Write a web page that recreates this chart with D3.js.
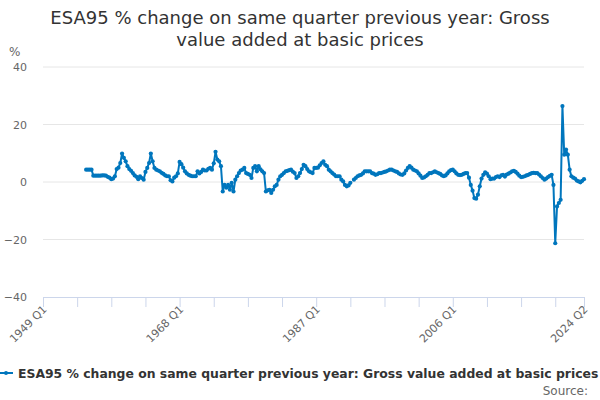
<!DOCTYPE html>
<html>
<head>
<meta charset="utf-8">
<script src="https://d3js.org/d3.v7.min.js"></script>
<style>
  body { margin: 0; background: #fff; }
  svg { font-family: "DejaVu Sans", sans-serif; display: block; }
</style>
</head>
<body>
<svg width="600" height="400"></svg>
<script>
// chart text
var titleLines = ["ESA95 % change on same quarter previous year: Gross", "value added at basic prices"];
var seriesName = "ESA95 % change on same quarter previous year: Gross value added at basic prices";
var unitLabel = "%";
var sourceLabel = "Source:";

// axes
var yTicks = [-40, -20, 0, 20, 40];
var xTickLabels = ["1949 Q1", "1968 Q1", "1987 Q1", "2006 Q1", "2024 Q2"];

// quarterly values, one row per year, starting 1955 Q1 (null = no value)
var firstYear = 1955;
var growth = [
  4.3, 4.3, 4.3, 4.3,      // 1955
  2.2, 2.2, 2.2, 2.2,      // 1956
  2.2, 2.3, 2.3, 2.2,      // 1957
  1.8, 1.5, 1.0, 1.2,      // 1958
  2.0, 4.5, 5.0, 6.6,      // 1959
  9.9, 8.4, 7.2, 5.5,      // 1960
  4.5, 3.9, 3.1, 2.3,      // 1961
  1.8, 1.0, 2.0, 1.4,      // 1962
  0.8, 3.5, 4.9, 6.6,      // 1963
  9.9, 7.2, 4.9, 4.3,      // 1964
  4.0, 3.7, 3.2, 2.8,      // 1965
  2.3, 2.0, 2.0, 0.6,      // 1966
  0.2, 1.5, 2.0, 3.0,      // 1967
  7.0, 6.2, 5.0, 3.7,      // 1968
  3.0, 2.5, 2.2, 2.0,      // 1969
  2.0, 2.0, 3.7, 3.0,      // 1970
  3.5, 4.3, 4.0, 4.0,      // 1971
  4.6, 4.9, 4.3, 6.5,      // 1972
  10.5, 7.8, 7.2, 5.5,     // 1973
  -3.3, -1.0, -2.0, -1.0,  // 1974
  -2.7, -0.3, -3.3, 0.8,   // 1975
  2.0, 3.1, 4.0, 4.3,      // 1976
  4.9, 3.1, 2.8, 2.5,      // 1977
  1.4, 4.9, 5.5, 3.7,      // 1978
  5.5, 4.4, 3.7, 3.1,      // 1979
  -3.3, -2.9, -2.7, -3.8,  // 1980
  -2.7, -1.5, -1.0, 0.8,   // 1981
  2.0, 2.5, 3.1, 3.7,      // 1982
  3.9, 4.1, 4.3, 3.6,      // 1983
  3.1, 1.4, 2.0, 3.1,      // 1984
  4.5, 6.0, 5.5, 4.5,      // 1985
  3.7, 3.4, 3.1, 4.9,      // 1986
  4.9, 5.0, 5.8, 6.6,      // 1987
  7.2, 6.0, 5.5, 4.3,      // 1988
  3.7, 3.1, 2.6, 2.0,      // 1989
  2.0, 2.0, 0.8, 0.2,      // 1990
  -1.0, -1.5, -1.2, -0.3,  // 1991
  null, 0.8, 1.4, 2.0,     // 1992
  2.3, 2.5, 3.0, 3.7,      // 1993
  3.7, 3.7, 3.7, 3.1,      // 1994
  2.9, 2.5, 2.7, 3.1,      // 1995
  3.1, 3.3, 3.5, 3.7,      // 1996
  4.0, 4.3, 4.3, 4.0,      // 1997
  3.7, 3.5, 3.0, 2.6,      // 1998
  2.5, 3.0, 4.0, 4.9,      // 1999
  5.5, 5.0, 4.3, 4.0,      // 2000
  3.7, 3.0, 2.2, 1.4,      // 2001
  1.6, 2.0, 2.5, 3.1,      // 2002
  3.1, 3.4, 3.7, 3.4,      // 2003
  3.1, 2.8, 2.3, 2.0,      // 2004
  2.3, 3.0, 3.7, 4.1,      // 2005
  4.3, 3.7, 3.0, 2.5,      // 2006
  2.4, 2.5, 2.8, 3.1,      // 2007
  3.1, 1.5, -1.0, -3.0,    // 2008
  -5.6, -5.8, -4.4, -1.5,  // 2009
  1.2, 2.5, 3.4, 2.9,      // 2010
  2.0, 1.0, 1.2, 1.2,      // 2011
  1.7, 2.0, 1.7, 2.3,      // 2012
  2.5, 1.9, 2.6, 2.9,      // 2013
  3.3, 3.7, 3.9, 3.5,      // 2014
  2.9, 2.2, 1.7, 1.8,      // 2015
  2.0, 2.3, 2.5, 2.8,      // 2016
  3.1, 3.2, 3.1, 3.1,      // 2017
  2.6, 2.0, 1.4, 0.8,      // 2018
  1.2, 1.7, 2.1, 2.5,      // 2019
  -1.0, -21.3, -8.5, -7.3, // 2020
  -6.2, 26.4, 9.5, 11.3,   // 2021
  9.5, 4.3, 2.0, 1.5,      // 2022
  1.2, 0.5, 0.2, -0.1,     // 2023
  0.4, 1.0                 // 2024
];

var lineColor = "#0076bd";

// every quarter on the category axis, 1949 Q1 .. 2024 Q2
var quarters = [];
for (var yr = 1949; yr <= 2024; yr++) {
  for (var q = 1; q <= 4; q++) {
    if (yr === 2024 && q > 2) break;
    quarters.push(yr + " Q" + q);
  }
}
var offset = quarters.indexOf(firstYear + " Q1");
var data = growth.map(function(v, i) { return {q: quarters[offset + i], v: v}; });

var svg = d3.select("svg");

var x = d3.scalePoint().domain(quarters).range([43, 584]);
var y = d3.scaleLinear().domain([-40, 40]).range([297, 67]);

// title
svg.append("g").selectAll("text")
  .data(titleLines)
  .enter().append("text")
  .attr("x", 300)
  .attr("y", function(d, i) { return 24 + i * 22; })
  .attr("text-anchor", "middle")
  .attr("font-size", "18px")
  .attr("fill", "#333")
  .text(function(d) { return d; });

// gridlines (the bottom one is the x axis line)
svg.append("g").selectAll("line")
  .data(yTicks.filter(function(d) { return d > -40; }))
  .enter().append("line")
  .attr("x1", 43).attr("x2", 584)
  .attr("y1", function(d) { return y(d); })
  .attr("y2", function(d) { return y(d); })
  .attr("stroke", "#e6e6e6");

// y axis
var yAxis = d3.axisLeft(y).tickValues(yTicks).tickSize(0).tickPadding(0);
var yg = svg.append("g").attr("transform", "translate(27,0)").call(yAxis);
yg.select(".domain").remove();
yg.selectAll("text")
  .attr("font-family", "DejaVu Sans")
  .attr("font-size", "11px")
  .attr("fill", "#666");

svg.append("text")
  .attr("x", 9).attr("y", 56)
  .attr("font-size", "12px")
  .attr("fill", "#666")
  .text(unitLabel);

// x axis: tick every 19 quarters plus the last one
var tickQuarters = quarters.filter(function(d, i) { return i % 19 === 0; });
tickQuarters.push(quarters[quarters.length - 1]);
var xAxis = d3.axisBottom(x).tickValues(tickQuarters).tickSize(10)
  .tickFormat(function(d) { return xTickLabels.indexOf(d) >= 0 ? d : ""; });
var xg = svg.append("g").attr("transform", "translate(0,297)").call(xAxis);
xg.select(".domain").attr("stroke", "#ccd6eb").attr("d", "M43,0.5H584");
xg.selectAll(".tick line").attr("stroke", "#ccd6eb");
xg.selectAll("text")
  .attr("font-family", "DejaVu Sans")
  .attr("font-size", "11px")
  .attr("fill", "#666")
  .attr("text-anchor", "end")
  .attr("y", 0).attr("dy", 0)
  .attr("transform", "translate(4,13) rotate(-45)");

// series line with markers
var line = d3.line()
  .defined(function(d) { return d.v !== null; })
  .x(function(d) { return x(d.q); })
  .y(function(d) { return y(d.v); });

svg.append("path")
  .datum(data)
  .attr("fill", "none")
  .attr("stroke", lineColor)
  .attr("stroke-width", 2)
  .attr("stroke-linejoin", "round")
  .attr("d", line);

svg.append("g").selectAll("circle")
  .data(data.filter(function(d) { return d.v !== null; }))
  .enter().append("circle")
  .attr("cx", function(d) { return x(d.q); })
  .attr("cy", function(d) { return y(d.v); })
  .attr("r", 2.1)
  .attr("fill", lineColor);

// legend
var legend = svg.append("g");
legend.append("line")
  .attr("x1", 0).attr("x2", 13)
  .attr("y1", 373).attr("y2", 373)
  .attr("stroke", lineColor)
  .attr("stroke-width", 2);
legend.append("circle")
  .attr("cx", 6).attr("cy", 373).attr("r", 2)
  .attr("fill", lineColor);
legend.append("text")
  .attr("x", 18).attr("y", 378)
  .attr("font-size", "12.4px")
  .attr("font-weight", "bold")
  .attr("fill", "#333")
  .text(seriesName);

svg.append("text")
  .attr("x", 588).attr("y", 395)
  .attr("text-anchor", "end")
  .attr("font-size", "12px")
  .attr("fill", "#666")
  .text(sourceLabel);
</script>
</body>
</html>
